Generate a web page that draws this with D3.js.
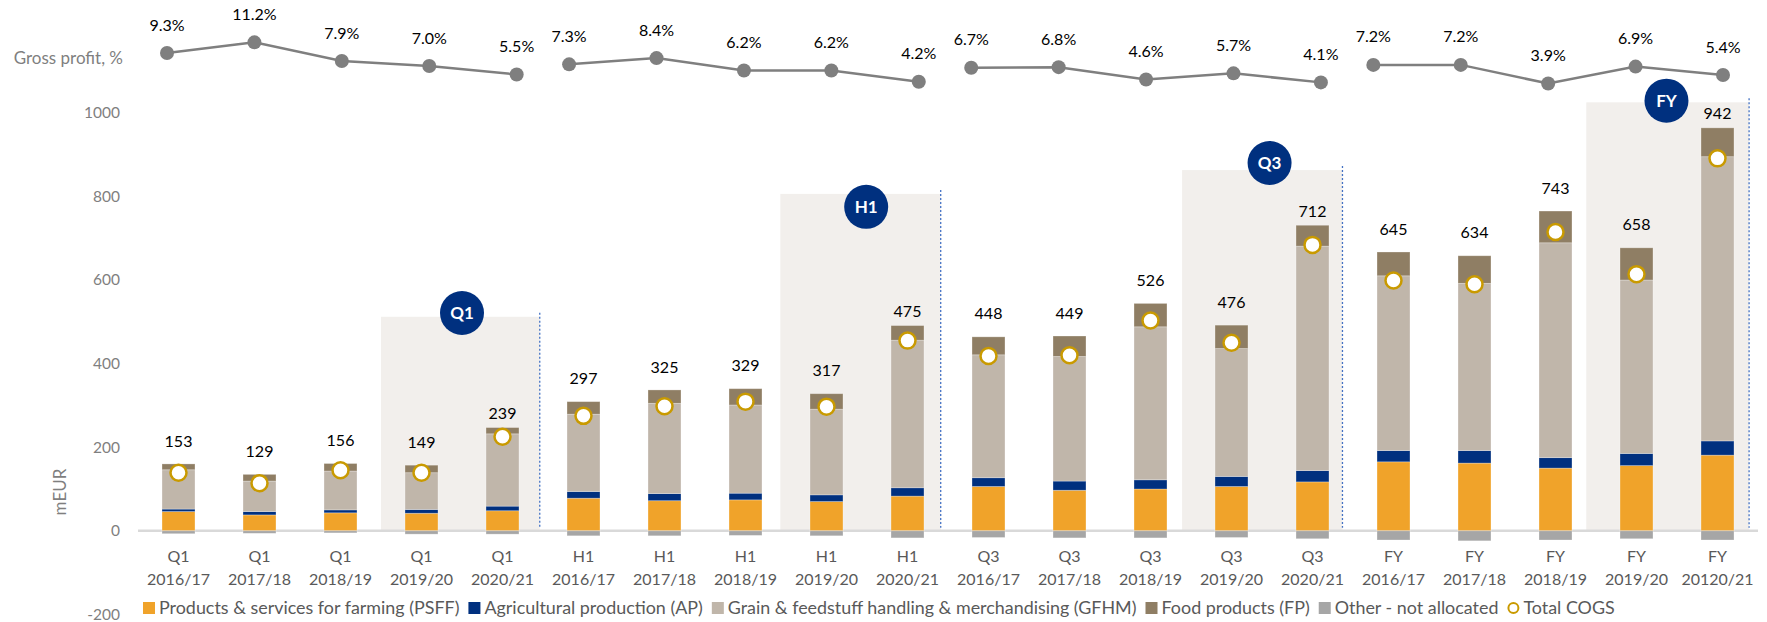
<!DOCTYPE html>
<html>
<head>
<meta charset="utf-8">
<script src="https://cdn.jsdelivr.net/npm/d3@7"></script>
<style>
  body { margin: 0; background: #fff; }
  svg { display: block; font-family: Lato, "Open Sans", sans-serif; }
</style>
</head>
<body>
<svg id="chart"></svg>
<script>
const width = 1767;
const height = 622;

// categories
const periods = ["Q1","Q1","Q1","Q1","Q1","H1","H1","H1","H1","H1","Q3","Q3","Q3","Q3","Q3","FY","FY","FY","FY","FY"];
const years = ["2016/17","2017/18","2018/19","2019/20","2020/21","2016/17","2017/18","2018/19","2019/20","2020/21",
               "2016/17","2017/18","2018/19","2019/20","2020/21","2016/17","2017/18","2018/19","2019/20","20120/21"];

// stacked segments, mEUR
const psff  = [46, 38, 43, 42, 48, 78, 72, 74, 70, 83, 106, 97, 100, 106, 117, 165, 162, 150, 156, 181];
const ap    = [6, 8, 7, 9, 11, 16, 17, 16, 16, 20, 21, 22, 22, 24, 27, 27, 30, 25, 29, 34];
const gfhm  = [94, 73, 93, 88, 173, 185, 216, 211, 205, 353, 294, 298, 366, 306, 537, 418, 400, 514, 415, 680];
const fp    = [14, 16, 18, 18, 15, 30, 32, 39, 37, 35, 43, 49, 56, 56, 50, 57, 66, 76, 77, 69];
const other = [-7, -6, -5, -8, -8, -12, -12, -11, -12, -17, -16, -17, -17, -16, -19, -22, -24, -22, -19, -22];

const totals = [153, 129, 156, 149, 239, 297, 325, 329, 317, 475, 448, 449, 526, 476, 712, 645, 634, 743, 658, 942];
const cogs   = [139, 114, 145, 139, 225, 275, 298, 309, 297, 455, 418, 420, 503, 450, 684, 599, 590, 715, 614, 891];
const grossProfit = [9.3, 11.2, 7.9, 7.0, 5.5, 7.3, 8.4, 6.2, 6.2, 4.2, 6.7, 6.8, 4.6, 5.7, 4.1, 7.2, 7.2, 3.9, 6.9, 5.4];

// highlighted periods (category positions, top in mEUR)
const panelLabels = ["Q1", "H1", "Q3", "FY"];
const panelFrom   = [2.5, 7.43, 12.39, 17.38];
const panelTo     = [4.46, 9.41, 14.37, 19.39];
const panelTop    = [512, 806, 863, 1025];
const badgeX      = [3.5, 8.49, 13.47, 18.37];
const badgeY      = [521, 775, 880, 1029];

const yTicks = [-200, 0, 200, 400, 600, 800, 1000];

const keys = ["psff", "ap", "gfhm", "fp", "other"];
const colors = { psff: "#F0A32A", ap: "#00307F", gfhm: "#C0B6AA", fp: "#8F7E64", other: "#A6A6A6" };
const legendNames = {
  psff: "Products & services for farming (PSFF)",
  ap: "Agricultural production (AP)",
  gfhm: "Grain & feedstuff handling & merchandising (GFHM)",
  fp: "Food products (FP)",
  other: "Other - not allocated"
};

const cats = periods.map((p, i) => p + " " + years[i]);
const rows = cats.map((c, i) => ({
  cat: c, psff: psff[i], ap: ap[i], gfhm: gfhm[i], fp: fp[i], other: other[i]
}));

const svg = d3.select("#chart").attr("width", width).attr("height", height);

const x = d3.scaleBand().domain(cats).range([138, 1758]).paddingInner(0.593).paddingOuter(0.2965);
const bw = x.bandwidth();
const xc = i => x(cats[i]) + bw / 2;
const xPos = d3.scaleLinear().domain([0, 19]).range([xc(0), xc(19)]);
const y = d3.scaleLinear().domain([-200, 1000]).range([614.4, 112.8]);

// gross profit line has its own spacing, with gaps between the groups
const gpX = d3.scaleLinear().domain([0, 17.8]).range([167, 1723]);
const gpY = d3.scaleLinear().domain([0, 10]).range([105.5, 49.1]);
const gpPos = i => Math.floor(i / 5) * 4.6 + (i % 5);

// shaded panels
const panels = panelLabels.map((l, i) => ({ label: l, from: panelFrom[i], to: panelTo[i], top: panelTop[i], bx: badgeX[i], by: badgeY[i] }));

svg.selectAll(".panel")
  .data(panels)
  .enter()
  .append("rect")
  .attr("class", "panel")
  .attr("x", d => xPos(d.from))
  .attr("y", d => y(d.top))
  .attr("width", d => xPos(d.to) - xPos(d.from))
  .attr("height", d => y(0) - y(d.top))
  .attr("fill", "#F2EFEC");

// zero line
svg.append("line")
  .attr("x1", x.range()[0])
  .attr("x2", x.range()[1])
  .attr("y1", y(0))
  .attr("y2", y(0))
  .attr("stroke", "#D9D9D9")
  .attr("stroke-width", 2.5);

// y axis
const yAxis = d3.axisLeft(y).tickValues(yTicks).tickSize(0).tickPadding(0).tickFormat(d => String(d));
const gy = svg.append("g").attr("transform", "translate(120,0)").call(yAxis);
gy.select(".domain").remove();
gy.selectAll("text")
  .attr("font-family", "Lato, sans-serif")
  .attr("font-size", 15.5)
  .attr("fill", "#7F7F7F");

svg.append("text")
  .attr("transform", "translate(66,492) rotate(-90)")
  .attr("text-anchor", "middle")
  .attr("font-size", 17)
  .attr("fill", "#7F7F7F")
  .text("mEUR");

// x axis labels (two lines)
const xAxis = d3.axisBottom(x).tickSize(0).tickFormat(() => "");
const gx = svg.append("g").attr("transform", `translate(0,${y(0)})`).call(xAxis);
gx.select(".domain").remove();
gx.selectAll(".tick").each(function(d, i) {
  const t = d3.select(this).append("text")
    .attr("text-anchor", "middle")
    .attr("fill", "#595959")
    .attr("font-family", "Lato, sans-serif")
    .attr("font-size", 16);
  t.append("tspan").attr("x", 0).attr("y", 31).text(periods[i]);
  t.append("tspan").attr("x", 0).attr("y", 54).text(years[i]);
});

// stacked bars
const series = d3.stack().keys(keys).offset(d3.stackOffsetDiverging)(rows);

svg.append("g")
  .selectAll("g")
  .data(series)
  .enter()
  .append("g")
  .attr("fill", d => colors[d.key])
  .selectAll("rect")
  .data(d => d)
  .enter()
  .append("rect")
  .attr("x", d => x(d.data.cat))
  .attr("y", d => y(Math.max(d[0], d[1])))
  .attr("width", bw)
  .attr("height", d => Math.abs(y(d[0]) - y(d[1])))
  .attr("stroke", "#ffffff")
  .attr("stroke-opacity", 0.35)
  .attr("stroke-width", 0.8);

// dashed right borders of panels
svg.selectAll(".panel-edge")
  .data(panels)
  .enter()
  .append("line")
  .attr("class", "panel-edge")
  .attr("x1", d => xPos(d.to))
  .attr("x2", d => xPos(d.to))
  .attr("y1", d => y(d.top) - 4)
  .attr("y2", y(0) - 3)
  .attr("stroke", "#4472C4")
  .attr("stroke-width", 1.3)
  .attr("stroke-dasharray", "2,2");

// total labels
const positiveTop = rows.map(r => r.psff + r.ap + r.gfhm + r.fp);
svg.selectAll(".total")
  .data(totals)
  .enter()
  .append("text")
  .attr("class", "total")
  .attr("x", (d, i) => xc(i))
  .attr("y", (d, i) => y(positiveTop[i]) - (i % 5 === 4 ? 14 : 23))
  .attr("dy", "0.35em")
  .attr("text-anchor", "middle")
  .attr("font-size", 16)
  .attr("fill", "#000")
  .text(d => d);

// total COGS markers
svg.selectAll(".cogs")
  .data(cogs)
  .enter()
  .append("circle")
  .attr("class", "cogs")
  .attr("cx", (d, i) => xc(i))
  .attr("cy", d => y(d))
  .attr("r", 8)
  .attr("fill", "#fff")
  .attr("stroke", "#C99A00")
  .attr("stroke-width", 2.5);

// badges
const badges = svg.selectAll(".badge")
  .data(panels)
  .enter()
  .append("g")
  .attr("class", "badge")
  .attr("transform", d => `translate(${xPos(d.bx)},${y(d.by)})`);
badges.append("circle").attr("r", 22).attr("fill", "#00307F");
badges.append("text")
  .attr("text-anchor", "middle")
  .attr("dy", "0.36em")
  .attr("fill", "#fff")
  .attr("font-weight", "bold")
  .attr("font-size", 17)
  .text(d => d.label);

// gross profit line
const gpData = grossProfit.map((v, i) => ({ v, i, g: Math.floor(i / 5) }));
const gpLine = d3.line().x(d => gpX(gpPos(d.i))).y(d => gpY(d.v));

svg.selectAll(".gp-line")
  .data(d3.groups(gpData, d => d.g))
  .enter()
  .append("path")
  .attr("class", "gp-line")
  .attr("d", d => gpLine(d[1]))
  .attr("fill", "none")
  .attr("stroke", "#7F7F7F")
  .attr("stroke-width", 2.5);

svg.selectAll(".gp-dot")
  .data(gpData)
  .enter()
  .append("circle")
  .attr("class", "gp-dot")
  .attr("cx", d => gpX(gpPos(d.i)))
  .attr("cy", d => gpY(d.v))
  .attr("r", 7)
  .attr("fill", "#7F7F7F");

svg.selectAll(".gp-label")
  .data(gpData)
  .enter()
  .append("text")
  .attr("class", "gp-label")
  .attr("x", d => gpX(gpPos(d.i)))
  .attr("y", d => gpY(d.v) - 28)
  .attr("dy", "0.35em")
  .attr("text-anchor", "middle")
  .attr("font-size", 16)
  .attr("fill", "#000")
  .text(d => d.v.toFixed(1) + "%");

svg.append("text")
  .attr("x", 123)
  .attr("y", 58)
  .attr("dy", "0.35em")
  .attr("text-anchor", "end")
  .attr("font-size", 17)
  .attr("fill", "#7F7F7F")
  .text("Gross profit, %");

// legend
const legend = svg.append("g").attr("transform", "translate(143,608)");
let lx = 0;
keys.concat(["cogs"]).forEach(k => {
  const item = legend.append("g").attr("transform", `translate(${lx},0)`);
  if (k === "cogs") {
    item.append("circle").attr("cx", 6).attr("cy", 0).attr("r", 5)
      .attr("fill", "#fff").attr("stroke", "#C99A00").attr("stroke-width", 2);
  } else {
    item.append("rect").attr("x", 0).attr("y", -6).attr("width", 12).attr("height", 12)
      .attr("fill", colors[k]);
  }
  const t = item.append("text")
    .attr("x", 16)
    .attr("dy", "0.35em")
    .attr("font-size", 17.9)
    .attr("fill", "#595959")
    .text(k === "cogs" ? "Total COGS" : legendNames[k]);
  lx += 16 + t.node().getComputedTextLength() + 9;
});
</script>
</body>
</html>
